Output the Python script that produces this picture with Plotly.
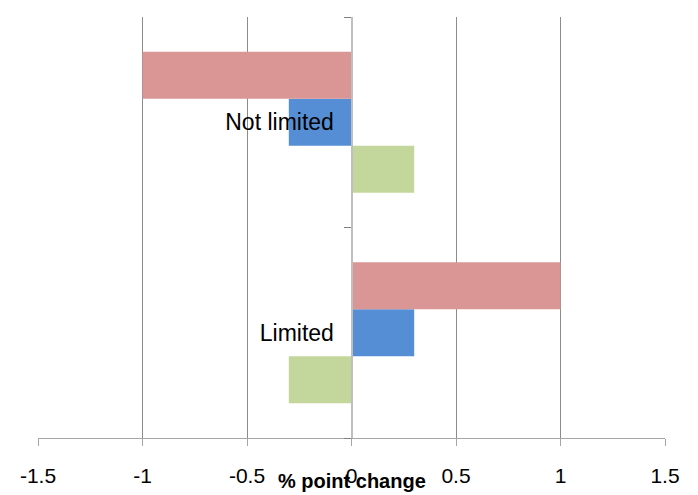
import plotly.graph_objects as go

categories = ["Limited", "Not limited"]
# listed bottom-to-top within each group
series_names = ["Series 3", "Series 2", "Series 1"]
series_values = [
    [-0.3, 0.3],   # green
    [0.3, -0.3],   # blue
    [1.0, -1.0],   # red
]
series_colors = ["#C3D69B", "#558ED5", "#D99694"]
x_ticks = [-1.5, -1, -0.5, 0, 0.5, 1, 1.5]
x_labels = ["-1.5", "-1", "-0.5", "0", "0.5", "1", "1.5"]

FONT = "Liberation Sans"

fig = go.Figure()
for name, vals, color in zip(series_names, series_values, series_colors):
    fig.add_trace(
        go.Bar(
            y=categories,
            x=vals,
            name=name,
            orientation="h",
            marker={"color": color, "line": {"width": 0}},
        )
    )

fig.update_layout(
    width=698,
    height=495,
    barmode="group",
    bargap=0.33,
    bargroupgap=0,
    showlegend=False,
    paper_bgcolor="white",
    plot_bgcolor="white",
    margin={"l": 38, "r": 33, "t": 17, "b": 57, "autoexpand": False},
    font={"family": FONT, "size": 21, "color": "black"},
)

fig.update_xaxes(
    range=[-1.5, 1.5],
    tickvals=x_ticks,
    ticktext=x_labels,
    automargin=False,
    showgrid=True,
    gridcolor="#8C8C8C",
    gridwidth=1,
    zeroline=False,
    showline=True,
    linecolor="#A6A6A6",
    linewidth=1,
    ticks="outside",
    ticklen=7,
    tickcolor="#A6A6A6",
    ticklabelstandoff=12,
    tickfont={"family": FONT, "size": 21},
)

fig.update_yaxes(
    range=[-0.5, 1.5],
    anchor="free",
    position=0.5,
    automargin=False,
    showgrid=False,
    zeroline=False,
    showline=True,
    linecolor="#BFBFBF",
    linewidth=2,
    ticks="outside",
    tickson="boundaries",
    ticklen=7,
    tickcolor="#808080",
    ticklabelstandoff=12,
    tickfont={"family": FONT, "size": 23},
)

fig.add_annotation(
    text="<b>% point change</b>",
    xref="paper",
    yref="paper",
    x=0.5,
    y=0,
    yanchor="middle",
    yshift=-43,
    showarrow=False,
    font={"family": FONT, "size": 20, "color": "black"},
)

# drop the page's default body margin so the figure sits at the window origin
fig.write_html(
    "out.html",
    config={"displayModeBar": False},
    post_script="document.body.style.margin = '0';",
)
